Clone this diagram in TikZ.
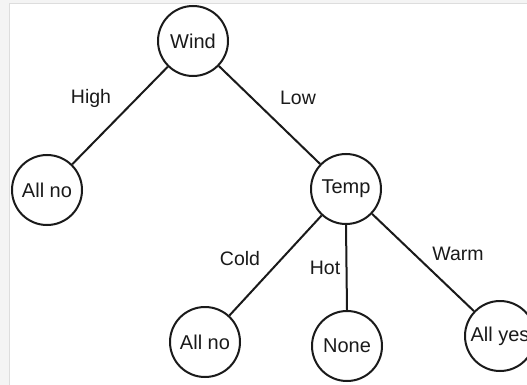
\documentclass[tikz,border=0pt]{standalone}
\usepackage{fontspec}
\setmainfont{Liberation Sans}
\definecolor{strip}{HTML}{F4F4F4}
\definecolor{stripline}{HTML}{DDDDDD}
\definecolor{ink}{HTML}{1A1A1A}
\begin{document}
\begin{tikzpicture}[x=1pt,y=-1pt,
  treenode/.style={circle,draw=ink,line width=2pt,minimum size=70pt,inner sep=0pt,
    font=\fontsize{20}{22}\selectfont,text=ink},
  edgelabel/.style={font=\fontsize{19.5}{22}\selectfont,text=ink,inner sep=0pt},
  branch/.style={draw=ink,line width=2pt}]
\useasboundingbox (0,0) rectangle (527,385);
\fill[white] (0,0) rectangle (527,385);
\fill[strip] (0,0) rectangle (9.5,385);
\fill[strip] (0,0) rectangle (527,3.5);
\draw[stripline,line width=1pt] (9.5,385) -- (9.5,3.5) -- (527,3.5);
\node[treenode] (wind) at (193,41) {Wind};
\node[treenode] (allno1) at (47,190) {All no};
\node[treenode] (temp) at (346,189) {Temp};
\node[treenode] (allno2) at (205,342) {All no};
\node[treenode] (none) at (347,346) {None};
\node[treenode] (allyes) at (500,336) {All yes};
\draw[branch] (wind) -- (allno1);
\draw[branch] (wind) -- (temp);
\draw[branch] (temp) -- (allno2);
\draw[branch] (temp.south) -- (none.north);
\draw[branch] (temp) -- (allyes);
\node[edgelabel] (lhigh) at (91,98) {High};
\node[edgelabel] (llow) at (298,98) {Low};
\node[edgelabel] (lcold) at (240,259) {Cold};
\node[edgelabel] (lhot) at (325,268) {Hot};
\node[edgelabel] (lwarm) at (458,254) {Warm};
\end{tikzpicture}
\end{document}
